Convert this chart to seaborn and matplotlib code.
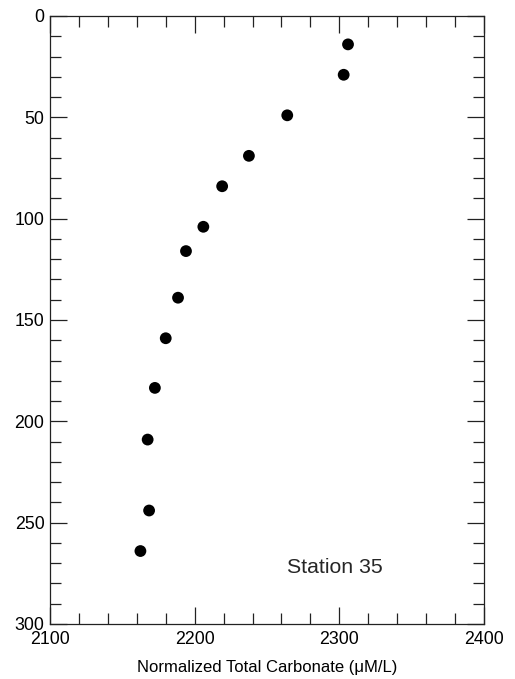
import matplotlib
matplotlib.use("Agg")
import matplotlib.pyplot as plt
import seaborn as sns
import pandas as pd
from matplotlib.ticker import MultipleLocator

# Station 35 profile: normalized total carbonate vs depth
carbonate = [2306, 2303, 2264, 2237.5, 2219, 2206, 2194, 2188.5, 2180, 2172.5, 2167.5, 2168.5, 2162.5]
depth = [14, 29, 49, 69, 84, 104, 116, 139, 159, 183.5, 209, 244, 264]
station_label = "Station 35"

df = pd.DataFrame({"carbonate": carbonate, "depth": depth})

sns.set_style("ticks")
plt.rcParams["font.family"] = ["Liberation Sans", "DejaVu Sans"]

fig = plt.figure(figsize=(5.15, 6.79), dpi=100)
ax = fig.add_axes([50 / 515, 1 - 624 / 679, 434 / 515, 608 / 679])

sns.scatterplot(data=df, x="carbonate", y="depth", ax=ax,
                color="black", s=72, edgecolor="none", legend=False)

ax.set_xlim(2100, 2400)
ax.set_ylim(300, 0)
ax.xaxis.set_major_locator(MultipleLocator(100))
ax.xaxis.set_minor_locator(MultipleLocator(20))
ax.yaxis.set_major_locator(MultipleLocator(50))
ax.yaxis.set_minor_locator(MultipleLocator(10))

ax.tick_params(which="both", direction="in", top=True, right=True,
               width=0.9, color="#222222", labelsize=12.8, labelcolor="black")
ax.tick_params(which="major", length=12)
ax.tick_params(axis="x", which="major", pad=5)
ax.tick_params(axis="y", which="major", pad=4)
ax.tick_params(which="minor", length=8)
for sp in ax.spines.values():
    sp.set_visible(True)
    sp.set_linewidth(0.9)
    sp.set_color("#222222")

ax.set_xlabel("Normalized Total Carbonate (\u03bcM/L)", fontsize=12, labelpad=9,
              color="black")
ax.set_ylabel("")
ax.text(2264, 272, station_label, fontsize=15.3, va="center", ha="left")

fig.savefig("out.png", dpi=100)
